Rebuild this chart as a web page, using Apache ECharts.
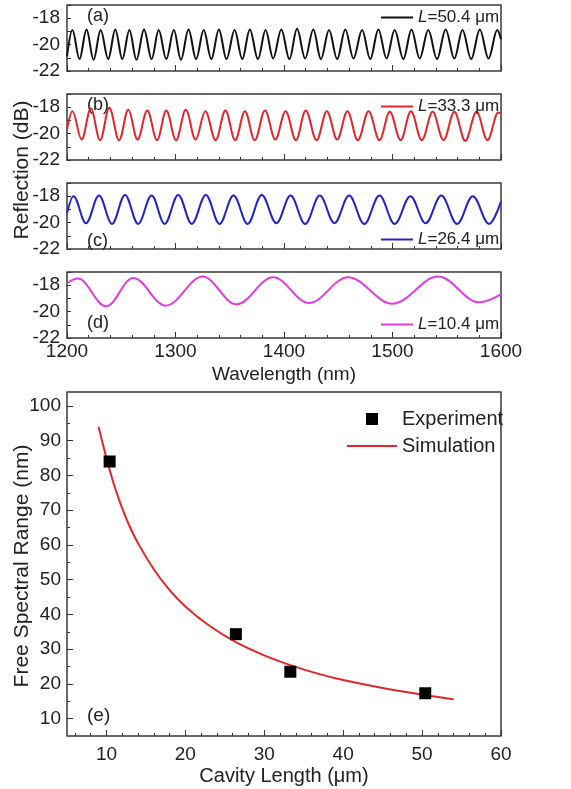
<!DOCTYPE html>
<html>
<head>
<meta charset="utf-8">
<script src="https://cdn.jsdelivr.net/npm/echarts@6/dist/echarts.min.js"></script>
<style>
html,body{margin:0;padding:0;background:#fff;}
#chart{width:571px;height:789px;}
</style>
</head>
<body>
<div id="chart"></div>
<script>
// ---------- Data ----------
// Panel (a) L=50.4 um : extrema of reflection spectrum
const wlA = [1200,1205,1211.5,1218,1224.5,1231,1238,1244.5,1251,1257.5,1264,1271,1278,1284.5,1291.5,1298.5,1305,1312,1319,1326,1333,1340,1347,1354.5,1361.5,1368.5,1376,1383,1390,1397.5,1405,1412,1419.5,1427,1434,1441.5,1449,1456.5,1464,1472,1479.5,1487,1494.5,1502,1510,1517.5,1525,1533,1541,1549,1557,1564.5,1572.5,1580.5,1588.5,1596.5,1600];
const dbA = [-20.9,-18.9,-21.1,-18.85,-21.15,-18.9,-21.1,-18.85,-21.1,-18.9,-21.15,-18.85,-21.1,-18.9,-21.1,-18.9,-21.15,-18.85,-21.1,-18.9,-21.1,-18.85,-21.1,-18.9,-21.1,-18.85,-21.1,-18.9,-21.05,-18.85,-21.1,-18.8,-21.05,-18.85,-21.1,-18.9,-21.1,-18.85,-21.05,-18.9,-21.1,-18.85,-21.05,-18.9,-21.1,-18.85,-21.05,-18.9,-21.1,-18.85,-21.05,-18.9,-21.1,-18.85,-21.05,-18.9,-19.6];

// Panel (b) L=33.3 um
const wlB = [1200,1205,1213.5,1222,1230.5,1239,1248,1256.5,1265,1274,1283,1291.5,1300.5,1309.5,1318.5,1327.5,1337,1346,1355,1364,1373,1382.5,1392,1401.5,1411,1420,1430,1439.5,1449,1458.5,1468,1478,1488,1497.5,1507.5,1517,1527,1537,1547,1557,1567,1577.5,1587.5,1597.5,1600];
const dbB = [-19.7,-18.3,-20.45,-18.1,-20.5,-18.05,-20.5,-18.2,-20.45,-18.25,-20.5,-18.25,-20.5,-18.2,-20.45,-18.3,-20.5,-18.25,-20.5,-18.3,-20.5,-18.25,-20.45,-18.3,-20.5,-18.25,-20.5,-18.3,-20.45,-18.3,-20.5,-18.3,-20.5,-18.35,-20.5,-18.3,-20.5,-18.35,-20.5,-18.35,-20.55,-18.35,-20.5,-18.4,-18.5];

// Panel (c) L=26.4 um
const wlC = [1200,1206,1217.5,1229.5,1241.5,1253.5,1265.5,1278,1290,1302.5,1315,1328,1340.5,1353.5,1366.5,1379.5,1393,1406,1419.5,1433,1446.5,1460,1474,1488,1502,1516.5,1530.5,1545,1559.5,1574,1589,1600];
const dbC = [-19.3,-18.0,-20.05,-17.95,-20.1,-17.9,-20.1,-17.95,-20.1,-17.9,-20.1,-17.9,-20.1,-17.95,-20.1,-17.9,-20.05,-17.95,-20.1,-17.95,-20.05,-17.95,-20.1,-17.95,-20.1,-18.0,-20.05,-17.95,-20.1,-18.0,-20.1,-18.4];

// Panel (d) L=10.4 um
const wlD = [1200,1210,1236,1261,1291,1325,1356,1390,1423,1459,1500,1542,1580,1600];
const dbD = [-17.85,-17.5,-19.6,-17.45,-19.55,-17.35,-19.45,-17.4,-19.35,-17.4,-19.4,-17.35,-19.3,-18.7];

const specNames = ['L=50.4 μm','L=33.3 μm','L=26.4 μm','L=10.4 μm'];
const specColors = ['#111111','#e3262b','#2424c8','#e03ce0'];

// Panel (e): FSR vs cavity length
const expL = [10.4, 26.4, 33.3, 50.4];
const expFSR = [84.0, 34.3, 23.5, 17.3];
const simL = [9, 10, 11, 12, 13, 14, 16, 18, 20, 23, 26.4, 30, 33.3, 37, 40, 45, 50, 54];
const simFSR = [94, 85, 77, 70.5, 65, 60.5, 53, 47, 42.3, 36.8, 32, 28.2, 25.4, 22.8, 21.1, 18.8, 16.9, 15.6];

// tick values
const eXMajor = [10, 20, 30, 40, 50, 60];
const eXMinor = [6, 8, 12, 14, 16, 18, 22, 24, 26, 28, 32, 34, 36, 38, 42, 44, 46, 48, 52, 54, 56, 58];
const eYMajor = [10, 20, 30, 40, 50, 60, 70, 80, 90, 100];
const eYMinor = [15, 25, 35, 45, 55, 65, 75, 85, 95];

// ---------- Chart ----------
const FONT = 'Liberation Sans, Arial, sans-serif';
const TXT = '#222';
const AX = '#333';
const chart = echarts.init(document.getElementById('chart'), null, {renderer: 'canvas'});

const gridTops = [5, 94, 183, 272];
const grids = gridTops.map(t => ({left: 67, top: t, width: 434, height: 66, show: true, borderColor: '#3a3a3a', borderWidth: 1.5, backgroundColor: 'transparent'}));
grids.push({left: 67, top: 392, width: 434, height: 344, show: true, borderColor: '#3a3a3a', borderWidth: 1.5, backgroundColor: 'transparent'});

const xAxes = [], yAxes = [];
for (let i = 0; i < 4; i++) {
  xAxes.push({
    gridIndex: i, type: 'value', min: 1200, max: 1600, interval: 100,
    axisLine: {show: false},
    axisTick: {show: true, inside: true, length: 6, lineStyle: {color: AX, width: 1}},
    minorTick: {show: true, splitNumber: 5, length: 3, lineStyle: {color: AX, width: 1}},
    splitLine: {show: false}, minorSplitLine: {show: false},
    axisLabel: {show: i === 3, color: TXT, fontSize: 19, fontFamily: FONT, margin: 4, formatter: v => String(v)}
  });
  yAxes.push({
    gridIndex: i, type: 'value', min: -22, max: -17, interval: 1,
    axisLine: {show: false},
    axisTick: {show: true, inside: true, length: 4, lineStyle: {color: AX, width: 1}},
    splitLine: {show: false},
    axisLabel: {color: TXT, fontSize: 19, fontFamily: FONT, margin: 7,
      formatter: v => (Math.round(v) % 2 === 0 ? String(v) : '')}
  });
}
// panel e axes
xAxes.push({
  gridIndex: 4, type: 'value', min: 5, max: 60, position: 'bottom',
  axisLine: {show: false},
  axisTick: {show: true, inside: true, length: 6, customValues: eXMajor, lineStyle: {color: AX}},
  axisLabel: {color: TXT, fontSize: 19, fontFamily: FONT, margin: 9, customValues: eXMajor},
  splitLine: {show: false}
});
xAxes.push({
  gridIndex: 4, type: 'value', min: 5, max: 60, position: 'bottom', offset: 0,
  axisLine: {show: false},
  axisTick: {show: true, inside: true, length: 3, customValues: eXMinor, lineStyle: {color: AX}},
  axisLabel: {show: false}, splitLine: {show: false}
});
yAxes.push({
  gridIndex: 4, type: 'value', min: 5, max: 104, position: 'left',
  axisLine: {show: false},
  axisTick: {show: true, inside: true, length: 6, customValues: eYMajor, lineStyle: {color: AX}},
  axisLabel: {color: TXT, fontSize: 19, fontFamily: FONT, margin: 6, customValues: eYMajor},
  splitLine: {show: false}
});
yAxes.push({
  gridIndex: 4, type: 'value', min: 5, max: 104, position: 'left', offset: 0,
  axisLine: {show: false},
  axisTick: {show: true, inside: true, length: 3, customValues: eYMinor, lineStyle: {color: AX}},
  axisLabel: {show: false}, splitLine: {show: false}
});

const specWl = [wlA, wlB, wlC, wlD];
const specDb = [dbA, dbB, dbC, dbD];
const series = [];
for (let i = 0; i < 4; i++) {
  series.push({
    name: specNames[i], type: 'line', xAxisIndex: i, yAxisIndex: i,
    data: specWl[i].map((w, k) => [w, specDb[i][k]]),
    smooth: 0.36, smoothMonotone: 'x', showSymbol: false, symbol: 'none',
    color: specColors[i],
    lineStyle: {color: specColors[i], width: 2}
  });
}
series.push({
  name: 'Simulation', type: 'line', xAxisIndex: 4, yAxisIndex: 4,
  data: simL.map((l, k) => [l, simFSR[k]]),
  smooth: 0.4, showSymbol: false, symbol: 'none', color: '#e3262b',
  lineStyle: {color: '#e3262b', width: 2}, z: 2
});
series.push({
  name: 'Experiment', type: 'scatter', xAxisIndex: 4, yAxisIndex: 4,
  data: expL.map((l, k) => [l, expFSR[k]]),
  symbol: 'rect', symbolSize: 12, color: '#000',
  itemStyle: {color: '#000', opacity: 1}, z: 3
});

const LINE_ICON = 'path://M0,0L32,0L32,2L0,2Z';
const legendTops = [9, 98, 231, 316];
const legends = specNames.map((n, i) => ({
  data: [{name: n, icon: LINE_ICON}], left: 381, top: legendTops[i], padding: 0,
  itemWidth: 32, itemHeight: 2, itemGap: 5, selectedMode: false,
  textStyle: {color: TXT, fontSize: 17, fontFamily: FONT,
    rich: {i: {fontStyle: 'italic', fontSize: 17, fontFamily: FONT, color: TXT}}},
  formatter: name => '{i|L}' + name.slice(1)
}));
legends.push({
  data: [{name: 'Experiment', icon: 'path://M19,0L31,0L31,12L19,12Z', itemStyle: {color: '#000', opacity: 1}},
         {name: 'Simulation', icon: 'path://M0,5L50,5L50,7L0,7Z'}],
  orient: 'vertical', left: 347, top: 409, padding: 0,
  itemWidth: 50, itemHeight: 12, itemGap: 7, selectedMode: false,
  textStyle: {color: TXT, fontSize: 20, fontFamily: FONT}
});

function label(text, x, y, size) {
  return {type: 'text', x: x, y: y, style: {text: text, fill: TXT, font: size + 'px ' + FONT, textAlign: 'left', textVerticalAlign: 'middle'}};
}
const graphics = [
  label('(a)', 87, 16, 18), label('(b)', 87, 105, 18), label('(c)', 87, 241, 18), label('(d)', 87, 323, 18), label('(e)', 87, 716, 19),
  {type: 'text', x: 284, y: 375, style: {text: 'Wavelength (nm)', fill: TXT, font: '19px ' + FONT, textAlign: 'center', textVerticalAlign: 'middle'}},
  {type: 'text', x: 284, y: 776, style: {text: 'Cavity Length (μm)', fill: TXT, font: '20px ' + FONT, textAlign: 'center', textVerticalAlign: 'middle'}},
  {type: 'text', x: 22, y: 170, rotation: Math.PI / 2, style: {text: 'Reflection (dB)', fill: TXT, font: '21px ' + FONT, textAlign: 'center', textVerticalAlign: 'middle'}},
  {type: 'text', x: 22, y: 566, rotation: Math.PI / 2, style: {text: 'Free Spectral Range (nm)', fill: TXT, font: '21px ' + FONT, textAlign: 'center', textVerticalAlign: 'middle'}}
];

chart.setOption({
  animation: false,
  backgroundColor: '#fff',
  grid: grids,
  xAxis: xAxes,
  yAxis: yAxes,
  legend: legends,
  series: series,
  graphic: graphics
});
</script>
</body>
</html>
